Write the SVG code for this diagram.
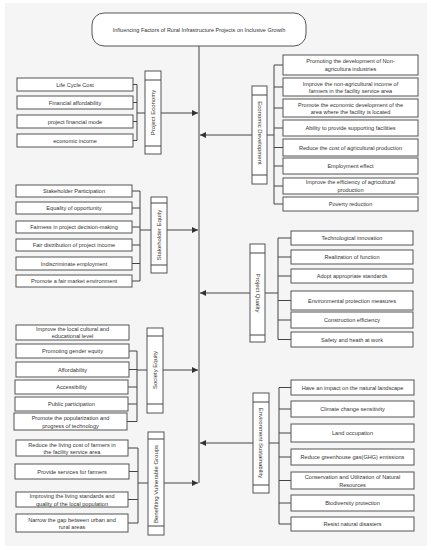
<svg xmlns="http://www.w3.org/2000/svg" width="431" height="550" viewBox="0 0 431 550">
<defs>
<style>
.bx{fill:#fff;stroke:#555;stroke-width:1}
.ln{fill:none;stroke:#444;stroke-width:1}
.t{font-family:"Liberation Sans",Arial,sans-serif;font-size:5.6px;fill:#333;text-anchor:middle}
.c{font-family:"Liberation Sans",Arial,sans-serif;font-size:6px;fill:#333;text-anchor:middle}
</style>
<marker id="ah" markerUnits="userSpaceOnUse" markerWidth="6" markerHeight="6" refX="6" refY="3" orient="auto">
<path d="M0,0 L6,3 L0,6 z" fill="#333"/>
</marker>
</defs>
<rect x="0" y="0" width="431" height="550" fill="#fff"/>
<rect x="5" y="3" width="422" height="543" fill="#f5f5f5"/>

<g id="connectors" class="ln">
<path d="M199,46 V483"/>
<path d="M161,113 H198" marker-end="url(#ah)"/>
<path d="M167,230 H198" marker-end="url(#ah)"/>
<path d="M163,370 H198" marker-end="url(#ah)"/>
<path d="M164,483 H198" marker-end="url(#ah)"/>
<path d="M252,135 H200" marker-end="url(#ah)"/>
<path d="M250,293 H200" marker-end="url(#ah)"/>
<path d="M253,443 H200" marker-end="url(#ah)"/>
<path d="M137,84.5 V140.5 M133,84.5 H137 M133,102.5 H137 M133,121.5 H137 M133,140.5 H137 M137,113 H145"/>
<path d="M140,191 V281 M132,191 H140 M132,208 H140 M132,227 H140 M132,245 H140 M132,263.5 H140 M132,281 H140 M140,230 H151"/>
<path d="M137,351 V421.5 M129,351 H137 M129,369.5 H137 M128,387 H137 M128,404 H137 M127,421.5 H137 M137,370 H147"/>
<path d="M138,448 V523 M128,448 H138 M129,471.5 H138 M128,499.5 H138 M128,523 H138 M138,483 H148"/>
<path d="M274,65 V204 M267,135 H274 M274,65 H283 M274,87 H283 M274,108 H283 M274,128 H283 M274,147.5 H283 M274,166 H283 M274,186 H283 M274,204 H283"/>
<path d="M278,238 V339.5 M265,293 H278 M278,238 H291 M278,257 H291 M278,276 H291 M278,300.5 H291 M278,320 H291 M278,339.5 H291"/>
<path d="M279,387.5 V524 M269,443 H279 M279,387.5 H291 M279,409 H291 M279,433 H291 M279,457 H291 M279,480.5 H291 M279,503 H291 M279,524 H291"/>
</g>

<g id="title">
<rect class="bx" x="92" y="13" width="214" height="33" rx="12"/>
<text class="t" x="199" y="31.5" style="font-size:5.5px">Influencing Factors of Rural Infrastructure Projects on Inclusive Growth</text>
</g>

<g id="project-economy">
<rect class="bx" x="145" y="71" width="16" height="83"/>
<path class="ln" d="M145,80 H161 M145,146 H161"/>
<text class="c" transform="translate(155,112.5) rotate(-90)">Project Economy</text>
</g>
<g id="pe1"><rect class="bx" x="17" y="78" width="116" height="13"/><text class="t" x="75" y="86.5">Life Cycle Cost</text></g>
<g id="pe2"><rect class="bx" x="17" y="96" width="116" height="13"/><text class="t" x="75" y="104.5">Financial affordability</text></g>
<g id="pe3"><rect class="bx" x="17" y="115" width="116" height="13"/><text class="t" x="75" y="123.5">project financial mode</text></g>
<g id="pe4"><rect class="bx" x="17" y="134" width="116" height="13"/><text class="t" x="75" y="142.5">economic income</text></g>

<g id="stakeholder-equity">
<rect class="bx" x="151" y="197" width="16" height="76"/>
<path class="ln" d="M151,203 H167 M151,265 H167"/>
<text class="c" transform="translate(161,235) rotate(-90)">Stakeholder Equity</text>
</g>
<g id="se1"><rect class="bx" x="16" y="185" width="116" height="12"/><text class="t" x="74" y="193">Stakeholder Participation</text></g>
<g id="se2"><rect class="bx" x="16" y="202" width="116" height="12"/><text class="t" x="74" y="210">Equality of opportunity</text></g>
<g id="se3"><rect class="bx" x="16" y="221" width="116" height="12"/><text class="t" x="74" y="229">Fairness in project decision-making</text></g>
<g id="se4"><rect class="bx" x="16" y="239" width="116" height="12"/><text class="t" x="74" y="247">Fair distribution of project income</text></g>
<g id="se5"><rect class="bx" x="16" y="257" width="116" height="13"/><text class="t" x="74" y="265.5">Indiscriminate employment</text></g>
<g id="se6"><rect class="bx" x="16" y="275" width="116" height="12"/><text class="t" x="74" y="283">Promote a fair market environment</text></g>

<g id="society-equity">
<rect class="bx" x="147" y="328" width="16" height="85"/>
<path class="ln" d="M147,336 H163 M147,404 H163"/>
<text class="c" transform="translate(157,370) rotate(-90)">Society Equity</text>
</g>
<g id="so1"><rect class="bx" x="16" y="325" width="113" height="15"/><text class="t" x="72.5" y="331">Improve the local cultural and</text><text class="t" x="72.5" y="338">educational level</text></g>
<g id="so2"><rect class="bx" x="16" y="344" width="113" height="14"/><text class="t" x="72.5" y="353">Promoting gender equity</text></g>
<g id="so3"><rect class="bx" x="16" y="362" width="113" height="15"/><text class="t" x="72.5" y="371.5">Affordability</text></g>
<g id="so4"><rect class="bx" x="15" y="380" width="113" height="14"/><text class="t" x="71.5" y="389">Accessibility</text></g>
<g id="so5"><rect class="bx" x="15" y="397" width="113" height="14"/><text class="t" x="71.5" y="406">Public participation</text></g>
<g id="so6"><rect class="bx" x="14" y="413" width="113" height="17"/><text class="t" x="70.5" y="420">Promote the popularization and</text><text class="t" x="70.5" y="427.5">progress of technology</text></g>

<g id="benefiting-vulnerable-groups">
<rect class="bx" x="148" y="432" width="16" height="103"/>
<path class="ln" d="M148,439 H164 M148,526 H164"/>
<text class="c" transform="translate(158,484) rotate(-90)">Benefiting Vulnerable Groups</text>
</g>
<g id="bv1"><rect class="bx" x="16" y="440" width="112" height="16"/><text class="t" x="72" y="446.5">Reduce the living cost of farmers in</text><text class="t" x="72" y="454">the facility service area</text></g>
<g id="bv2"><rect class="bx" x="15" y="464" width="114" height="15"/><text class="t" x="72" y="473.5">Provide services for farmers</text></g>
<g id="bv3"><rect class="bx" x="16" y="492" width="112" height="15"/><text class="t" x="72" y="498">Improving the living standards and</text><text class="t" x="72" y="505.5">quality of the local population</text></g>
<g id="bv4"><rect class="bx" x="16" y="514" width="112" height="18"/><text class="t" x="72" y="521.5">Narrow the gap between urban and</text><text class="t" x="72" y="529">rural areas</text></g>

<g id="economic-development">
<rect class="bx" x="252" y="86" width="15" height="98"/>
<path class="ln" d="M252,95 H267 M252,175 H267"/>
<text class="c" transform="translate(257.5,133) rotate(90)">Economic Development</text>
</g>
<g id="ed1"><rect class="bx" x="283" y="55" width="135" height="20"/><text class="t" x="350.5" y="63">Promoting the development of Non-</text><text class="t" x="350.5" y="70.5">agricultura industries</text></g>
<g id="ed2"><rect class="bx" x="283" y="78" width="135" height="18"/><text class="t" x="350.5" y="85.5">Improve the non-agricultural income of</text><text class="t" x="350.5" y="93">farmers in the facility service area</text></g>
<g id="ed3"><rect class="bx" x="283" y="99" width="135" height="18"/><text class="t" x="350.5" y="106.5">Promote the economic development of the</text><text class="t" x="350.5" y="114">area where the facility is located</text></g>
<g id="ed4"><rect class="bx" x="283" y="120" width="135" height="16"/><text class="t" x="350.5" y="130">Ability to provide supporting facilities</text></g>
<g id="ed5"><rect class="bx" x="283" y="139" width="135" height="17"/><text class="t" x="350.5" y="149.5">Reduce the cost of agricultural production</text></g>
<g id="ed6"><rect class="bx" x="283" y="158" width="135" height="16"/><text class="t" x="350.5" y="168">Employment effect</text></g>
<g id="ed7"><rect class="bx" x="283" y="178" width="135" height="16"/><text class="t" x="350.5" y="184">Improve the efficiency of agricultural</text><text class="t" x="350.5" y="191.5">production</text></g>
<g id="ed8"><rect class="bx" x="283" y="197" width="135" height="14"/><text class="t" x="350.5" y="206">Poverty reduction</text></g>

<g id="project-quality">
<rect class="bx" x="250" y="244" width="15" height="98"/>
<path class="ln" d="M250,253 H265 M250,335 H265"/>
<text class="c" transform="translate(255.5,293) rotate(90)">Project Quality</text>
</g>
<g id="pq1"><rect class="bx" x="291" y="231" width="122" height="14"/><text class="t" x="352" y="240">Technological innovation</text></g>
<g id="pq2"><rect class="bx" x="291" y="250" width="122" height="14"/><text class="t" x="352" y="259">Realization of function</text></g>
<g id="pq3"><rect class="bx" x="291" y="269" width="122" height="14"/><text class="t" x="352" y="278">Adopt appropriate standards</text></g>
<g id="pq4"><rect class="bx" x="291" y="291" width="122" height="19"/><text class="t" x="352" y="302.5">Environmental protection measures</text></g>
<g id="pq5"><rect class="bx" x="291" y="312" width="122" height="16"/><text class="t" x="352" y="322">Construction efficiency</text></g>
<g id="pq6"><rect class="bx" x="291" y="332" width="122" height="15"/><text class="t" x="352" y="341.5">Safety and heath at work</text></g>

<g id="environment-sustainability">
<rect class="bx" x="253" y="393" width="16" height="100"/>
<path class="ln" d="M253,402 H269 M253,485 H269"/>
<text class="c" transform="translate(259,443) rotate(90)">Environment Sustainability</text>
</g>
<g id="es1"><rect class="bx" x="291" y="380" width="123" height="15"/><text class="t" x="352.5" y="389.5">Have an impact on the natural landscape</text></g>
<g id="es2"><rect class="bx" x="291" y="401" width="123" height="16"/><text class="t" x="352.5" y="411">Climate change sensitivity</text></g>
<g id="es3"><rect class="bx" x="291" y="424" width="123" height="18"/><text class="t" x="352.5" y="435">Land occupation</text></g>
<g id="es4"><rect class="bx" x="291" y="449" width="123" height="16"/><text class="t" x="352.5" y="459">Reduce greenhouse gas(GHG) emissions</text></g>
<g id="es5"><rect class="bx" x="291" y="472" width="123" height="17"/><text class="t" x="352.5" y="479">Conservation and Utilization of Natural</text><text class="t" x="352.5" y="486.5">Resources</text></g>
<g id="es6"><rect class="bx" x="291" y="495" width="123" height="16"/><text class="t" x="352.5" y="505">Biodiversity protection</text></g>
<g id="es7"><rect class="bx" x="291" y="517" width="123" height="14"/><text class="t" x="352.5" y="526">Resist natural disasters</text></g>
</svg>
